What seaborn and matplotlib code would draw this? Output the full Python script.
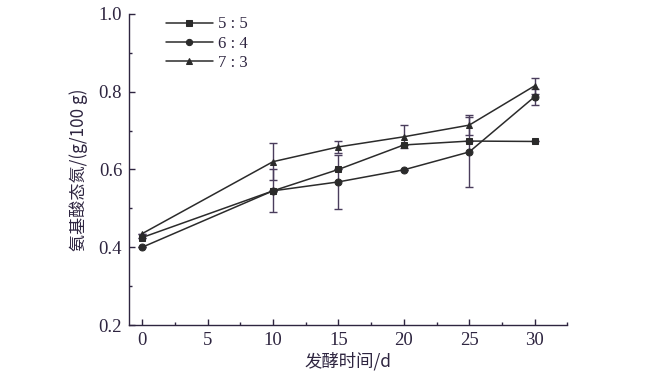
import matplotlib
matplotlib.use("Agg")
import matplotlib.pyplot as plt
import seaborn as sns
import numpy as np
import pandas as pd
from matplotlib.ticker import MultipleLocator, FormatStrFormatter

days = [0, 10, 15, 20, 25, 30]
r55 = [0.425, 0.545, 0.600, 0.663, 0.673, 0.672]
r64 = [0.400, 0.545, 0.568, 0.599, 0.645, 0.787]
r73 = [0.435, 0.620, 0.658, 0.684, 0.714, 0.815]
err55 = [0, 0, 0, 0, 0, 0]
err64 = [0, 0.055, 0.070, 0, 0.090, 0.020]
err73 = [0, 0.047, 0.015, 0.030, 0.025, 0.020]
labels = ["5 : 5", "6 : 4", "7 : 3"]
xticks = [0, 5, 10, 15, 20, 25, 30]
yticks = [0.2, 0.4, 0.6, 0.8, 1.0]
xlabel = "发酵时间/d"
ylabel = "氨基酸态氮/(g/100 g)"

sns.set_style("ticks")
plt.rcParams['font.family'] = ['Liberation Serif', 'Noto Sans CJK SC']

fig = plt.figure(figsize=(6.62, 3.86), dpi=100)
ax = fig.add_axes([0.195, 0.158, 0.662, 0.806])

txt = "#2e2540"
linec = "#2b2b2b"
errc = "#4a3d5c"

df = pd.DataFrame({
    "day": days * 3,
    "val": r55 + r64 + r73,
    "ratio": [labels[0]] * 6 + [labels[1]] * 6 + [labels[2]] * 6,
})
markers = {labels[0]: "s", labels[1]: "o", labels[2]: "^"}

for lab, e in zip(labels, [err55, err64, err73]):
    sub = df[df["ratio"] == lab]
    ax.errorbar(sub["day"], sub["val"], yerr=e, fmt="none", ecolor=errc,
                elinewidth=1.0, capsize=3, capthick=1.0, zorder=2)

sns.lineplot(data=df, x="day", y="val", hue="ratio", style="ratio",
             markers=markers, dashes=False, palette=[linec] * 3,
             markersize=5, linewidth=1.1, ax=ax, legend=True, zorder=3,
             markeredgecolor="#2a2a2a")

ax.set_xlim(-1, 32.5)
ax.set_ylim(0.2, 1.0)
ax.set_xticks(xticks)
ax.set_yticks(yticks)
ax.xaxis.set_minor_locator(MultipleLocator(2.5))
ax.yaxis.set_minor_locator(MultipleLocator(0.1))
ax.yaxis.set_major_formatter(FormatStrFormatter("%.1f"))
ax.tick_params(which="major", direction="in", length=4, width=1, colors=txt,
               labelsize=13.5, pad=5)
ax.tick_params(which="minor", direction="in", length=2, width=1, colors=txt)
for s in ["left", "bottom"]:
    ax.spines[s].set_color(txt)
    ax.spines[s].set_linewidth(1.0)
sns.despine(ax=ax)

ax.set_xlabel(xlabel, fontsize=12.5, color=txt,
              family=['Noto Sans CJK SC', 'DejaVu Sans'], labelpad=2)
ax.set_ylabel(ylabel, fontsize=12.3, color=txt,
              family=['Noto Sans CJK SC', 'DejaVu Sans'], labelpad=8)

leg = ax.legend(title=None, loc="upper left", bbox_to_anchor=(0.05, 1.04),
                frameon=False, fontsize=12, handlelength=2.8,
                labelspacing=0.2, handletextpad=0.3, markerscale=0.9)
for t in leg.get_texts():
    t.set_color(txt)

fig.savefig("out.png", dpi=100)
